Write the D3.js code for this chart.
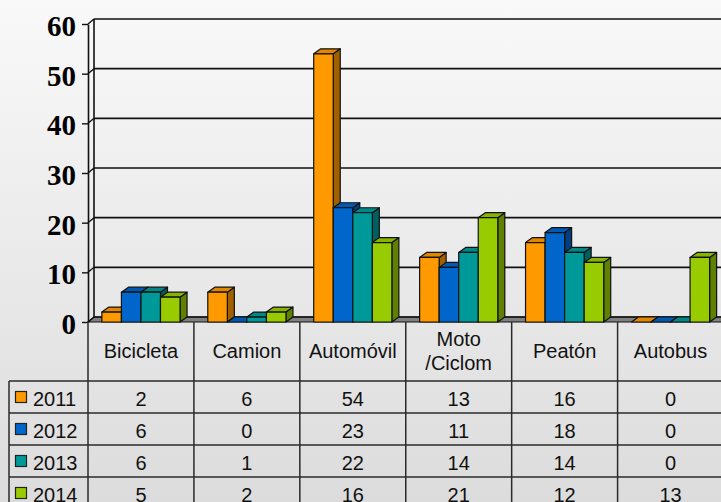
<!DOCTYPE html>
<html><head><meta charset="utf-8">
<script src="https://cdn.jsdelivr.net/npm/d3@7"></script>
<style>html,body{margin:0;padding:0;overflow:hidden;background:#fff}</style>
</head><body><svg id="c" width="721" height="502"></svg>
<script>
const categories = ["Bicicleta","Camion","Automóvil","Moto\n/Ciclom","Peatón","Autobus"];
const years = ["2011","2012","2013","2014"];
const v2011 = [2,6,54,13,16,0];
const v2012 = [6,0,23,11,18,0];
const v2013 = [6,1,22,14,14,0];
const v2014 = [5,2,16,21,12,13];
const yTicks = [0,10,20,30,40,50,60];
const seriesValues = [v2011,v2012,v2013,v2014];
const colors = ["#FF9900","#0066CC","#009999","#99CC00"];

const svg = d3.select("#c");
const W = 721, H = 502;
const defs = svg.append("defs");
const g = defs.append("linearGradient").attr("id","bg").attr("x1",0).attr("y1",0).attr("x2",0).attr("y2",1);
g.append("stop").attr("offset","0%").attr("stop-color","#f9f9f9");
g.append("stop").attr("offset","100%").attr("stop-color","#dcdcdc");
svg.append("rect").attr("width",W).attr("height",H).attr("fill","url(#bg)");

const left = 88, right = 723.5, y0 = 322, yTop = 24;
const dx = 6, dy = 5, bdx = 7;
const y = d3.scaleLinear().domain([0,60]).range([y0, yTop]);
const x0 = d3.scaleBand().domain(categories).range([left, right]).padding(0);
const x1 = d3.scaleBand().domain(years).range([0, x0.bandwidth()]).paddingInner(0).paddingOuter(0.71);

// floor
svg.append("path")
  .attr("d", `M${left},${y0} L${left+dx},${y0-dy} L${W+5},${y0-dy} L${W+5},${y0} Z`)
  .attr("fill","#808080").attr("stroke","#111").attr("stroke-width",1.2);

// back wall gridlines
const grid = svg.append("g");
yTicks.forEach(t => {
  grid.append("line").attr("x1", left+dx).attr("x2", W+5)
    .attr("y1", y(t)-dy).attr("y2", y(t)-dy)
    .attr("stroke","#111").attr("stroke-width",1.6);
  grid.append("line").attr("x1", left).attr("x2", left+dx)
    .attr("y1", y(t)).attr("y2", y(t)-dy)
    .attr("stroke","#111").attr("stroke-width",1.4);
});
grid.append("line").attr("x1", left+dx).attr("x2", left+dx)
  .attr("y1", y(60)-dy).attr("y2", y0-dy).attr("stroke","#111").attr("stroke-width",1.6);

// y axis
const yAxis = svg.append("g").attr("transform",`translate(${left},0)`)
  .call(d3.axisLeft(y).tickValues(yTicks).tickSize(6).tickSizeOuter(0).tickPadding(6));
yAxis.select(".domain").attr("stroke","#111").attr("stroke-width",1.6);
yAxis.selectAll(".tick line").attr("stroke","#111").attr("stroke-width",1.4);
yAxis.selectAll("text").attr("font-family","'Liberation Serif','Times New Roman',serif")
  .attr("font-weight","bold").attr("font-size",29).attr("fill","#000").attr("dy","0.4em");

// bars
const bars = svg.append("g");
categories.forEach((c, ci) => {
  years.forEach((yr, si) => {
    const v = seriesValues[si][ci];
    const col = d3.color(colors[si]);
    const top = col.darker(0.35).formatHex();
    const side = col.darker(1.3).formatHex();
    const xa = x0(c) + x1(yr), w = x1.bandwidth(), yv = y(v);
    const gb = bars.append("g").attr("stroke","#111").attr("stroke-width",1.2).attr("stroke-linejoin","round");
    gb.append("path").attr("d",`M${xa+w},${yv} L${xa+w+bdx},${yv-dy} L${xa+w+bdx},${y0-dy} L${xa+w},${y0} Z`).attr("fill",side);
    gb.append("path").attr("d",`M${xa},${yv} L${xa+bdx},${yv-dy} L${xa+w+bdx},${yv-dy} L${xa+w},${yv} Z`).attr("fill",top);
    gb.append("rect").attr("x",xa).attr("y",yv).attr("width",w).attr("height",y0-yv).attr("fill",colors[si]);
  });
});

// data table
const rowTop = [381,413,445,477];
const tbl = svg.append("g").attr("stroke","#2a2a2a").attr("stroke-width",1.5);
categories.forEach(c => {
  tbl.append("line").attr("x1",x0(c)).attr("x2",x0(c)).attr("y1",y0).attr("y2",H+5);
});
tbl.append("line").attr("x1",9).attr("x2",9).attr("y1",rowTop[0]).attr("y2",H+5);
rowTop.forEach(r => tbl.append("line").attr("x1",9).attr("x2",W+5).attr("y1",r).attr("y2",r));

const font = "'Liberation Sans',Arial,sans-serif";
const fs = 20;
const txt = svg.append("g").attr("font-family",font).attr("font-size",fs).attr("fill","#111").attr("text-anchor","middle");
categories.forEach(c => {
  const lines = c.split("\n");
  const cx = x0(c) + x0.bandwidth()/2;
  if (lines.length === 1) {
    txt.append("text").attr("x",cx).attr("y",358).text(lines[0]);
  } else {
    txt.append("text").attr("x",cx).attr("y",346).text(lines[0]);
    txt.append("text").attr("x",cx).attr("y",370).text(lines[1]);
  }
});
years.forEach((yr, si) => {
  const base = rowTop[si] + 25;
  svg.append("rect").attr("x",15.5).attr("y",rowTop[si]+10.5).attr("width",11).attr("height",11)
    .attr("fill",colors[si]).attr("stroke","#222").attr("stroke-width",1.2);
  svg.append("text").attr("x",33).attr("y",base).attr("font-family",font).attr("font-size",fs)
    .attr("fill","#111").text(yr);
  categories.forEach((c, ci) => {
    txt.append("text").attr("x", x0(c) + x0.bandwidth()/2).attr("y", base).text(seriesValues[si][ci]);
  });
});
</script></body></html>
